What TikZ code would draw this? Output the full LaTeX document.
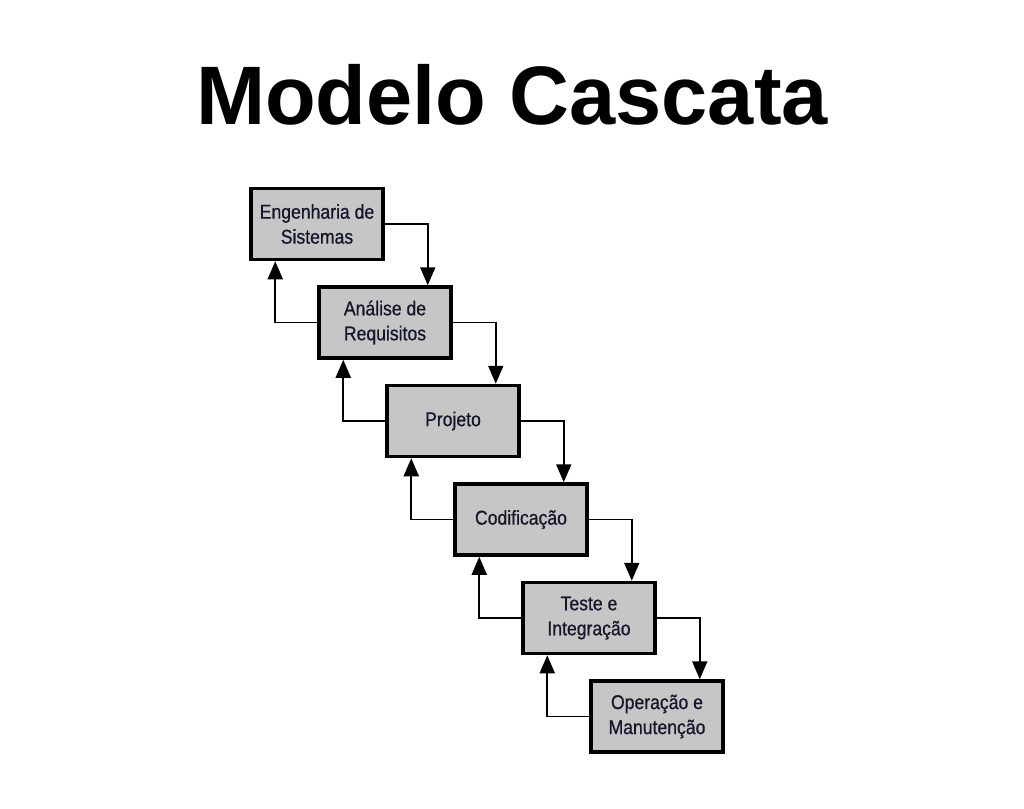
\documentclass[tikz,border=0pt]{standalone}
\usepackage{fontspec}
\setmainfont{Liberation Sans}
\newfontfamily\boxfont[FakeStretch=0.88,FakeBold=0.6]{Liberation Sans}
\usetikzlibrary{arrows.meta}
\definecolor{boxgray}{HTML}{C6C6C6}
\definecolor{txt}{HTML}{15152A}
\begin{document}
\begin{tikzpicture}[x=1pt,y=-1pt,
  stage/.style={draw=black, line width=3.5pt, fill=boxgray, minimum width=132pt, minimum height=71pt,
    align=center, inner sep=0pt, text=txt, font=\boxfont\fontsize{20}{25}\selectfont},
  link/.style={draw=black, line width=1.9pt, -{Triangle[width=15pt,length=18pt]}}]
\useasboundingbox (0,0) rectangle (1024,808);
\node[font=\bfseries\fontsize{83}{90}\selectfont, anchor=base] (title) at (512,124) {Modelo Cascata};
\node[stage] (b1) at (317,224) {Engenharia de\\Sistemas};
\node[stage] (b2) at (385,322.5) {Análise de\\Requisitos};
\node[stage] (b3) at (453,421) {Projeto};
\node[stage] (b4) at (521,519.5) {Codificação};
\node[stage] (b5) at (589,618) {Teste e\\Integração};
\node[stage] (b6) at (657,716.5) {Operação e\\Manutenção};
\foreach \a/\b in {b1/b2,b2/b3,b3/b4,b4/b5,b5/b6}{
  \draw[link] (\a.east) -| ([xshift=-25pt]\b.north east);
  \draw[link] (\b.west) -| ([xshift=26pt]\a.south west);
}
\end{tikzpicture}
\end{document}
